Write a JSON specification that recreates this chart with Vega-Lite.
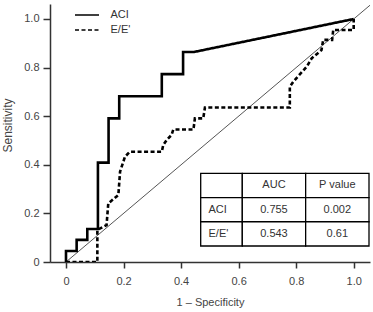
{
  "$schema": "https://vega.github.io/schema/vega-lite/v6.json",
  "autosize": {"type": "none"},
  "padding": {"left": 50, "top": 4, "right": 3, "bottom": 50},
  "width": 320,
  "height": 258,
  "config": {
    "view": {"stroke": null},
    "font": "Liberation Sans",
    "axis": {
      "grid": false,
      "domainColor": "#333",
      "domainWidth": 1.5,
      "tickColor": "#333",
      "tickWidth": 1.5,
      "labelColor": "#444",
      "labelFont": "Liberation Sans",
      "labelFontSize": 11,
      "titleFont": "Liberation Sans",
      "titleFontWeight": "normal",
      "titleColor": "#444"
    },
    "legend": {
      "labelFont": "Liberation Sans",
      "labelFontSize": 11,
      "labelColor": "#333"
    }
  },
  "datasets": {
    "curves": [
      {"test": "ACI", "i": 0, "fpr": 0, "tpr": 0},
      {"test": "ACI", "i": 1, "fpr": 0, "tpr": 0.045},
      {"test": "ACI", "i": 2, "fpr": 0.037, "tpr": 0.045},
      {"test": "ACI", "i": 3, "fpr": 0.037, "tpr": 0.091},
      {"test": "ACI", "i": 4, "fpr": 0.074, "tpr": 0.091},
      {"test": "ACI", "i": 5, "fpr": 0.074, "tpr": 0.136},
      {"test": "ACI", "i": 6, "fpr": 0.111, "tpr": 0.136},
      {"test": "ACI", "i": 7, "fpr": 0.111, "tpr": 0.409},
      {"test": "ACI", "i": 8, "fpr": 0.148, "tpr": 0.409},
      {"test": "ACI", "i": 9, "fpr": 0.148, "tpr": 0.591},
      {"test": "ACI", "i": 10, "fpr": 0.185, "tpr": 0.591},
      {"test": "ACI", "i": 11, "fpr": 0.185, "tpr": 0.682},
      {"test": "ACI", "i": 12, "fpr": 0.333, "tpr": 0.682},
      {"test": "ACI", "i": 13, "fpr": 0.333, "tpr": 0.773},
      {"test": "ACI", "i": 14, "fpr": 0.407, "tpr": 0.773},
      {"test": "ACI", "i": 15, "fpr": 0.407, "tpr": 0.864},
      {"test": "ACI", "i": 16, "fpr": 0.444, "tpr": 0.864},
      {"test": "ACI", "i": 17, "fpr": 1, "tpr": 1},
      {"test": "E/E'", "i": 0, "fpr": 0, "tpr": 0},
      {"test": "E/E'", "i": 1, "fpr": 0.109, "tpr": 0},
      {"test": "E/E'", "i": 2, "fpr": 0.109, "tpr": 0.132},
      {"test": "E/E'", "i": 3, "fpr": 0.141, "tpr": 0.152},
      {"test": "E/E'", "i": 4, "fpr": 0.147, "tpr": 0.241},
      {"test": "E/E'", "i": 5, "fpr": 0.182, "tpr": 0.276},
      {"test": "E/E'", "i": 6, "fpr": 0.188, "tpr": 0.372},
      {"test": "E/E'", "i": 7, "fpr": 0.205, "tpr": 0.433},
      {"test": "E/E'", "i": 8, "fpr": 0.222, "tpr": 0.454},
      {"test": "E/E'", "i": 9, "fpr": 0.333, "tpr": 0.454},
      {"test": "E/E'", "i": 10, "fpr": 0.338, "tpr": 0.481},
      {"test": "E/E'", "i": 11, "fpr": 0.35, "tpr": 0.502},
      {"test": "E/E'", "i": 12, "fpr": 0.367, "tpr": 0.523},
      {"test": "E/E'", "i": 13, "fpr": 0.373, "tpr": 0.545},
      {"test": "E/E'", "i": 14, "fpr": 0.443, "tpr": 0.545},
      {"test": "E/E'", "i": 15, "fpr": 0.448, "tpr": 0.591},
      {"test": "E/E'", "i": 16, "fpr": 0.477, "tpr": 0.591},
      {"test": "E/E'", "i": 17, "fpr": 0.483, "tpr": 0.636},
      {"test": "E/E'", "i": 18, "fpr": 0.778, "tpr": 0.636},
      {"test": "E/E'", "i": 19, "fpr": 0.778, "tpr": 0.721},
      {"test": "E/E'", "i": 20, "fpr": 0.79, "tpr": 0.742},
      {"test": "E/E'", "i": 21, "fpr": 0.837, "tpr": 0.804},
      {"test": "E/E'", "i": 22, "fpr": 0.854, "tpr": 0.838},
      {"test": "E/E'", "i": 23, "fpr": 0.888, "tpr": 0.872},
      {"test": "E/E'", "i": 24, "fpr": 0.894, "tpr": 0.914},
      {"test": "E/E'", "i": 25, "fpr": 0.925, "tpr": 0.914},
      {"test": "E/E'", "i": 26, "fpr": 0.929, "tpr": 0.955},
      {"test": "E/E'", "i": 27, "fpr": 1, "tpr": 0.955},
      {"test": "E/E'", "i": 28, "fpr": 1, "tpr": 1}
    ],
    "table": [
      {"row": "header", "col": "label", "text": ""},
      {"row": "header", "col": "AUC", "text": "AUC"},
      {"row": "header", "col": "P value", "text": "P value"},
      {"row": "ACI", "col": "label", "text": "ACI"},
      {"row": "ACI", "col": "AUC", "text": "0.755"},
      {"row": "ACI", "col": "P value", "text": "0.002"},
      {"row": "E/E'", "col": "label", "text": "E/E'"},
      {"row": "E/E'", "col": "AUC", "text": "0.543"},
      {"row": "E/E'", "col": "P value", "text": "0.61"}
    ]
  },
  "layer": [
    {
      "layer": [
        {
          "data": {"values": [{}]},
          "mark": {"type": "rule", "color": "#555", "strokeWidth": 1, "clip": true},
          "encoding": {
            "x": {"datum": 0, "type": "quantitative"},
            "y": {"datum": 0, "type": "quantitative"},
            "x2": {"datum": 1.0567},
            "y2": {"datum": 1.0567}
          }
        },
        {
          "data": {"name": "curves"},
          "mark": {"type": "line", "color": "#000", "strokeWidth": 2.6, "clip": true},
          "encoding": {
            "x": {
              "field": "fpr", "type": "quantitative",
              "scale": {"domain": [-0.0556, 1.0567], "nice": false, "zero": false},
              "axis": {
                "values": [0, 0.2, 0.4, 0.6, 0.8, 1.0],
                "labelExpr": "datum.value == 0 ? '0' : format(datum.value, '.1f')",
                "title": "1 \u2013 Specificity",
                "titleFontSize": 11,
                "tickSize": 6,
                "labelPadding": 7,
                "titlePadding": 10
              }
            },
            "y": {
              "field": "tpr", "type": "quantitative",
              "scale": {"domain": [0, 1.0617], "nice": false, "zero": false},
              "axis": {
                "values": [0, 0.2, 0.4, 0.6, 0.8, 1.0],
                "labelExpr": "datum.value == 0 ? '0' : format(datum.value, '.1f')",
                "title": "Sensitivity",
                "titleFontSize": 12,
                "tickSize": 7,
                "labelPadding": 4,
                "titlePadding": 9,
                "titleY": 121
              }
            },
            "order": {"field": "i", "type": "quantitative"},
            "strokeDash": {
              "field": "test", "type": "nominal",
              "scale": {"domain": ["ACI", "E/E'"], "range": [[1, 0], [4, 2.5]]},
              "legend": {
                "title": null,
                "orient": "none",
                "legendX": 30,
                "legendY": 4,
                "padding": 0,
                "symbolType": "M-2,0H2",
                "symbolSize": 144,
                "symbolStrokeWidth": 1.3,
                "symbolStrokeColor": "#000",
                "labelOffset": 16.5,
                "rowPadding": 3
              }
            }
          }
        }
      ]
    },
    {
      "data": {"name": "table"},
      "transform": [{"filter": "datum.col == 'label'"}],
      "encoding": {
        "x": {"field": "col", "type": "nominal", "axis": null,
              "scale": {"domain": ["label"], "range": [150.7, 192.3], "paddingInner": 0, "paddingOuter": 0}},
        "y": {"field": "row", "type": "nominal", "axis": null,
              "scale": {"domain": ["header", "ACI", "E/E'"], "range": [169.3, 242], "paddingInner": 0, "paddingOuter": 0}}
      },
      "layer": [
        {"mark": {"type": "rect", "fill": "#fff", "stroke": "#000", "strokeWidth": 1.3}},
        {"mark": {"type": "text", "align": "left", "dx": -13, "baseline": "middle", "fontSize": 11, "color": "#333", "font": "Liberation Sans"},
         "encoding": {"text": {"field": "text"}}}
      ]
    },
    {
      "data": {"name": "table"},
      "transform": [{"filter": "datum.col != 'label'"}],
      "encoding": {
        "x": {"field": "col", "type": "nominal", "axis": null,
              "scale": {"domain": ["AUC", "P value"], "range": [192.3, 319], "paddingInner": 0, "paddingOuter": 0}},
        "y": {"field": "row", "type": "nominal", "axis": null,
              "scale": {"domain": ["header", "ACI", "E/E'"], "range": [169.3, 242], "paddingInner": 0, "paddingOuter": 0}}
      },
      "layer": [
        {"mark": {"type": "rect", "fill": "#fff", "stroke": "#000", "strokeWidth": 1.3}},
        {"mark": {"type": "text", "align": "center", "baseline": "middle", "fontSize": 11, "color": "#333", "font": "Liberation Sans"},
         "encoding": {"text": {"field": "text"}}}
      ]
    }
  ],
  "resolve": {"scale": {"x": "independent", "y": "independent"}}
}
